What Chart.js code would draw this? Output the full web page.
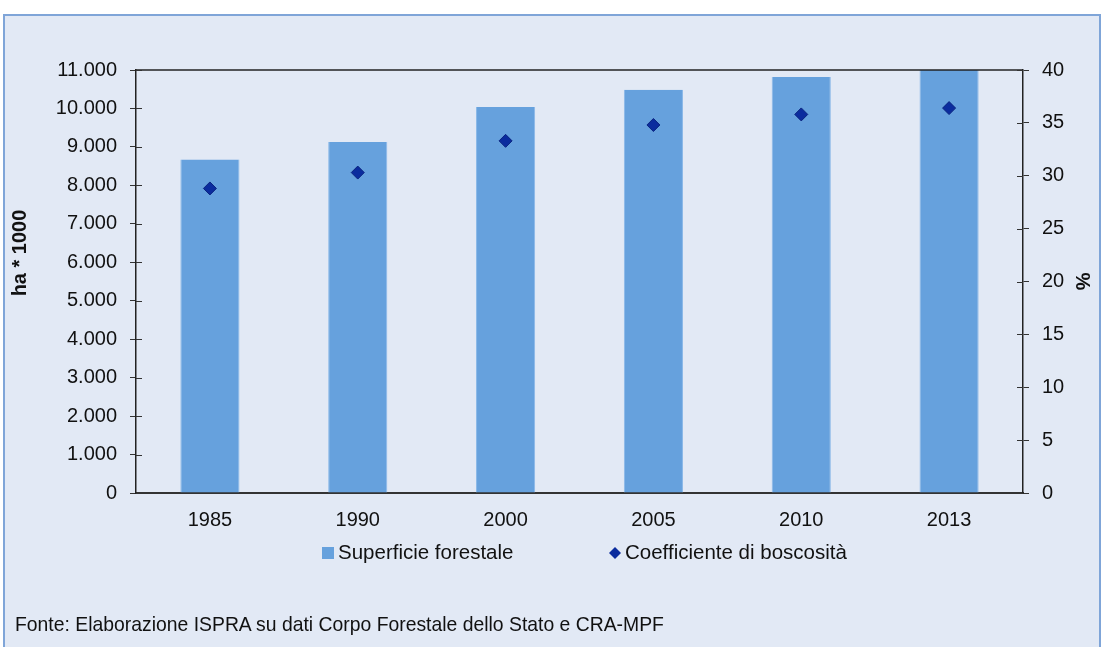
<!DOCTYPE html>
<html>
<head>
<meta charset="utf-8">
<script src="https://cdn.jsdelivr.net/npm/chart.js@4"></script>
<style>
  body { margin: 0; background: #fff; width: 1101px; height: 647px; overflow: hidden; position: relative; }
  #frame {
    position: absolute; left: 3px; top: 14px; width: 1094px; height: 640px;
    background: #e2e9f5; border: 2px solid #7fa5d8;
  }
  #chart { position: absolute; left: 0; top: 0; }
  #source {
    position: absolute; left: 15px; top: 612px;
    font-family: "Liberation Sans", Arial, sans-serif;
    font-size: 21px; color: #111; white-space: nowrap;
    transform: scaleX(0.922); transform-origin: 0 0;
  }
</style>
</head>
<body>
<div id="frame"></div>
<canvas id="chart" width="1101" height="647"></canvas>
<div id="source">Fonte: Elaborazione ISPRA su dati Corpo Forestale dello Stato e CRA-MPF</div>
<script>
// Superficie forestale e coefficiente di boscosità

const years = ['1985', '1990', '2000', '2005', '2010', '2013'];
const superficie = [8675, 9130, 10040, 10488, 10820, 11000];
const boscosita = [28.8, 30.3, 33.3, 34.8, 35.8, 36.4];
const leftTicks = [0, 1000, 2000, 3000, 4000, 5000, 6000, 7000, 8000, 9000, 10000, 11000];
const rightTicks = [0, 5, 10, 15, 20, 25, 30, 35, 40];
const leftTitle = 'ha * 1000';

const barColor = '#66a1dd';
const pointColor = '#0b2c9e';
const fontFamily = '"Liberation Sans", Arial, sans-serif';

function formatThousands(value) {
  return value.toLocaleString('de-DE');
}

// Excel-style tick marks crossing the axis, top border of the plot, left title
const plotFrame = {
  id: 'plotFrame',
  afterDatasetsDraw(chart) {
    const { ctx, chartArea: a, scales } = chart;
    ctx.save();
    ctx.strokeStyle = '#222';
    ctx.lineWidth = 1.5;
    ctx.beginPath();
    ctx.moveTo(a.left, a.top);
    ctx.lineTo(a.right, a.top);
    ctx.stroke();
    ctx.lineWidth = 1;
    ctx.strokeStyle = '#333';
    ctx.beginPath();
    leftTicks.forEach(v => {
      const y = Math.round(scales.y.getPixelForValue(v)) + 0.5;
      ctx.moveTo(a.left, y); ctx.lineTo(a.left + 6, y);
    });
    rightTicks.forEach(v => {
      const y = Math.round(scales.y1.getPixelForValue(v)) + 0.5;
      ctx.moveTo(a.right - 6, y); ctx.lineTo(a.right, y);
    });
    ctx.stroke();

    // left axis title sits a bit above the middle in the original
    ctx.translate(20, 253);
    ctx.rotate(-Math.PI / 2);
    ctx.font = 'bold 20px ' + fontFamily;
    ctx.fillStyle = '#111';
    ctx.textAlign = 'center';
    ctx.textBaseline = 'middle';
    ctx.fillText(leftTitle, 0, 0);
    ctx.restore();
  }
};

// Legend drawn under the axis, spaced like the original
const customLegend = {
  id: 'customLegend',
  afterDraw(chart) {
    const { ctx } = chart;
    const bars = chart.data.datasets.find(d => d.type === 'bar');
    const points = chart.data.datasets.find(d => d.type === 'line');
    const y = 553;
    ctx.save();
    ctx.font = '20.5px ' + fontFamily;
    ctx.textBaseline = 'middle';

    ctx.fillStyle = bars.backgroundColor;
    ctx.fillRect(322, y - 6, 12, 12);
    ctx.fillStyle = '#111';
    ctx.fillText(bars.label, 338, y);

    ctx.fillStyle = points.pointBackgroundColor;
    ctx.beginPath();
    ctx.moveTo(615, y - 6); ctx.lineTo(621, y); ctx.lineTo(615, y + 6); ctx.lineTo(609, y);
    ctx.closePath();
    ctx.fill();
    ctx.fillStyle = '#111';
    ctx.fillText(points.label, 625, y);
    ctx.restore();
  }
};

new Chart(document.getElementById('chart'), {
  data: {
    labels: years,
    datasets: [
      {
        type: 'line',
        label: 'Coefficiente di boscosità',
        data: boscosita,
        yAxisID: 'y1',
        showLine: false,
        pointStyle: 'rectRot',
        pointRadius: 6.5,
        pointBackgroundColor: pointColor,
        pointBorderColor: '#0a2380',
        pointBorderWidth: 1,
        order: 0
      },
      {
        type: 'bar',
        label: 'Superficie forestale',
        data: superficie,
        yAxisID: 'y',
        backgroundColor: barColor,
        borderColor: '#8ab8e8',
        borderWidth: { left: 1, right: 1, top: 0, bottom: 0 },
        barPercentage: 0.4,
        categoryPercentage: 1,
        order: 1
      }
    ]
  },
  options: {
    responsive: false,
    animation: false,
    layout: { padding: { top: 70, left: 0, right: 0, bottom: 109 } },
    plugins: {
      legend: { display: false },
      tooltip: { enabled: false }
    },
    scales: {
      x: {
        grid: { display: false, drawTicks: false },
        border: { color: '#333', width: 2 },
        ticks: { color: '#111', font: { family: fontFamily, size: 20 }, padding: 15 },
        afterFit(scale) { scale.height = 45; }
      },
      y: {
        position: 'left',
        min: 0,
        max: 11000,
        afterBuildTicks(scale) { scale.ticks = leftTicks.map(v => ({ value: v })); },
        grid: { drawOnChartArea: false, tickLength: 6, color: '#333' },
        border: { color: '#222', width: 1.5 },
        ticks: {
          color: '#111',
          font: { family: fontFamily, size: 20 },
          padding: 13,
          callback: v => formatThousands(v)
        },
        afterFit(scale) { scale.width = 136; }
      },
      y1: {
        position: 'right',
        min: 0,
        max: 40,
        afterBuildTicks(scale) { scale.ticks = rightTicks.map(v => ({ value: v })); },
        grid: { drawOnChartArea: false, tickLength: 6, color: '#333' },
        border: { color: '#222', width: 1.5 },
        ticks: { color: '#111', font: { family: fontFamily, size: 20 }, padding: 13 },
        title: {
          display: true,
          text: '%',
          color: '#111',
          font: { family: fontFamily, size: 20, weight: 'bold' },
          padding: { top: 7, bottom: 0 }
        },
        afterFit(scale) { scale.width = 78; }
      }
    }
  },
  plugins: [plotFrame, customLegend]
});
</script>
</body>
</html>
